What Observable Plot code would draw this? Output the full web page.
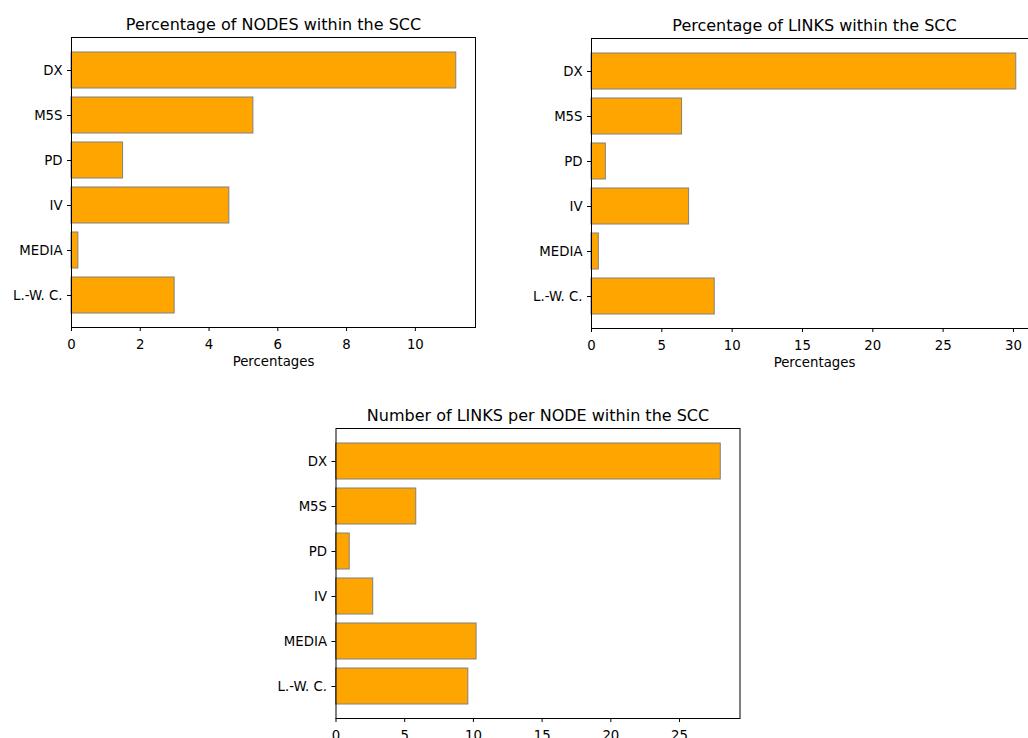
<!DOCTYPE html>
<html>
<head>
<meta charset="utf-8">
<script src="https://cdn.jsdelivr.net/npm/d3@7"></script>
<script src="https://cdn.jsdelivr.net/npm/@observablehq/plot@0.6"></script>
<style>
  html, body { margin: 0; padding: 0; background: white; overflow: hidden; }
  #wrap { position: relative; width: 1028px; height: 738px; overflow: hidden; background: white; }
  #wrap svg { position: absolute; }
</style>
</head>
<body>
<div id="wrap"></div>
<script>
const categories = ["DX", "M5S", "PD", "IV", "MEDIA", "L.-W. C."];
const nodesPct = [11.19, 5.29, 1.5, 4.59, 0.2, 3.0];
const linksPct = [30.2, 6.44, 1.02, 6.94, 0.52, 8.76];
const linksPerNode = [28.0, 5.84, 1.0, 2.71, 10.23, 9.63];

const ticksNodes = [0, 2, 4, 6, 8, 10];
const ticksLinks = [0, 5, 10, 15, 20, 25, 30];
const ticksPerNode = [0, 5, 10, 15, 20, 25];

const titles = [
  "Percentage of NODES within the SCC",
  "Percentage of LINKS within the SCC",
  "Number of LINKS per NODE within the SCC"
];
const xLabel = "Percentages";

function panel({values, ticks, title, xlabel, left, top, width, height, mL, mR, mT, mB}) {
  const data = categories.map((c, i) => ({cat: c, value: values[i]}));
  const maxV = d3.max(values);
  const marks = [
    Plot.barX(data, {x: "value", y: "cat", fill: "#FFA500", stroke: "#808080", strokeWidth: 1}),
    Plot.frame({stroke: "black", strokeWidth: 1}),
    Plot.axisX({ticks: ticks, tickSize: 4, tickPadding: 8, label: null, stroke: "black"}),
    Plot.axisY({tickSize: 4, tickPadding: 5, label: null, stroke: "black"}),
    Plot.text([title], {frameAnchor: "top", dy: -8, lineAnchor: "bottom", fontSize: 16, fill: "black"})
  ];
  if (xlabel) {
    marks.push(Plot.text([xlabel], {frameAnchor: "bottom", dy: 38, lineAnchor: "bottom", fill: "black"}));
  }
  const chart = Plot.plot({
    width, height,
    marginLeft: mL, marginRight: mR, marginTop: mT, marginBottom: mB,
    style: {fontFamily: "DejaVu Sans, sans-serif", fontSize: "13.3px", background: "white", overflow: "visible", color: "black"},
    x: {domain: [0, maxV * 1.05], label: null},
    y: {domain: categories, paddingInner: 0.2, paddingOuter: 0.29, label: null},
    marks
  });
  chart.style.left = left + "px";
  chart.style.top = top + "px";
  return chart;
}

const wrap = document.getElementById("wrap");
wrap.appendChild(panel({values: nodesPct, ticks: ticksNodes, title: titles[0], xlabel: xLabel,
  left: 0, top: 0, width: 500, height: 370, mL: 71, mR: 25, mT: 37, mB: 43}));
wrap.appendChild(panel({values: linksPct, ticks: ticksLinks, title: titles[1], xlabel: xLabel,
  left: 520, top: 0, width: 540, height: 370, mL: 71, mR: 23, mT: 38, mB: 42}));
wrap.appendChild(panel({values: linksPerNode, ticks: ticksPerNode, title: titles[2], xlabel: null,
  left: 260, top: 370, width: 500, height: 388, mL: 75.5, mR: 20.5, mT: 58, mB: 40}));
</script>
</body>
</html>
